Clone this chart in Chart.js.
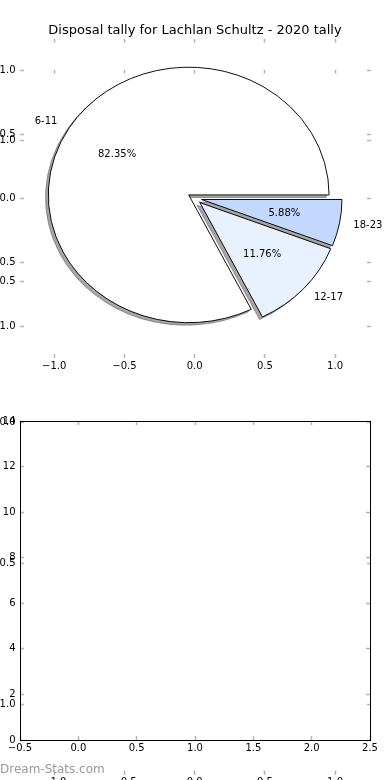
<!DOCTYPE html>
<html lang="en">
<head>
  <meta charset="UTF-8">
  <title>Disposal tally for Lachlan Schultz - 2020 tally</title>
  <script src="https://cdn.jsdelivr.net/npm/chart.js"></script>
  <style>
    body { margin: 0; background: #fff; }
    #wrap { position: relative; width: 390px; height: 780px; overflow: hidden; }
    #wrap canvas { position: absolute; left: 0; top: 0; }
    .mark { position: absolute; left: 0; top: 762px; font: 12px 'DejaVu Sans', sans-serif; line-height: 14px; color: #999; }
  </style>
</head>
<body>
  <div id="wrap">
    <canvas id="pieChart" width="390" height="780"></canvas>
    <canvas id="frameChart" width="390" height="780"></canvas>
    <canvas id="barChart" width="390" height="780"></canvas>
    <div class="mark">Dream-Stats.com</div>
  </div>

  <script>
    const chartTitle = 'Disposal tally for Lachlan Schultz - 2020 tally';
    // slices listed clockwise from 3 o'clock (matplotlib goes the other way)
    const ageGroups = ['18-23', '12-17', '6-11'];
    const disposals = [1, 2, 14];
    const explode = 0.05;
    const pieTicks = [-1, -0.5, 0, 0.5, 1];
    const barXTicks = [-0.5, 0, 0.5, 1, 1.5, 2, 2.5];
    const barYTicks = [0, 2, 4, 6, 8, 10, 12, 14];

    Chart.defaults.font.family = "'DejaVu Sans', sans-serif";
    Chart.defaults.font.size = 10;
    Chart.defaults.color = '#000';
    Chart.defaults.animation = false;
    Chart.defaults.plugins.legend.display = false;
    Chart.defaults.plugins.tooltip.enabled = false;

    const total = disposals.reduce((a, b) => a + b, 0);
    const oneDec = v => (v < 0 ? '\u2212' : '') + Math.abs(v).toFixed(1);
    const plain = v => String(v);

    function axis(position, lo, hi, ticks, fmt, size, framed) {
      const vertical = position === 'left' || position === 'right';
      const main = position === 'left' || position === 'bottom';
      return {
        type: 'linear',
        position: position,
        min: lo,
        max: hi,
        afterBuildTicks: s => { s.ticks = ticks.map(v => ({ value: v })); },
        afterFit: s => {
          if (vertical) s.width = size; else s.height = size;
          s.paddingTop = s.paddingBottom = s.paddingLeft = s.paddingRight = 0;
        },
        ticks: { display: main, callback: fmt, padding: vertical ? 8.5 : 6, autoSkip: false, maxRotation: 0 },
        grid: { drawOnChartArea: false, drawTicks: true, tickLength: -4, tickColor: '#b4b4b4', tickWidth: 1.5 },
        border: { display: framed, color: '#000', width: 1 }
      };
    }

    function axes(xr, yr, xt, yt, xf, yf, xh, rw, framed) {
      return {
        x: axis('bottom', xr[0], xr[1], xt, xf, xh, framed),
        x2: axis('top', xr[0], xr[1], xt, xf, 0, framed),
        y: axis('left', yr[0], yr[1], yt, yf, 20, framed),
        y2: axis('right', yr[0], yr[1], yt, yf, rw, framed)
      };
    }

    function geom(chart) {
      const x = chart.scales.x, y = chart.scales.y;
      return {
        cx: x.getPixelForValue(0),
        cy: y.getPixelForValue(0),
        rx: x.getPixelForValue(1) - x.getPixelForValue(0),
        ry: y.getPixelForValue(0) - y.getPixelForValue(1)
      };
    }

    // matplotlib pie: elliptical in data space, exploded wedges, shadow, labels outside
    const pieLook = {
      id: 'pieLook',
      beforeDatasetDraw() { return false; },
      afterDatasetsDraw(chart) {
        const ctx = chart.ctx;
        const g = geom(chart);
        const k = g.ry / g.rx;
        const t = explode * g.rx;
        const arcs = chart.getDatasetMeta(0).data;
        const shade = 'rgba(77,77,77,0.5)';

        const paint = (a, dx, dy, colour) => {
          const mid = (a.startAngle + a.endAngle) / 2;
          ctx.save();
          // move the arc centre onto the data origin, then squash
          ctx.translate(dx + g.cx - a.x, dy + g.cy - a.y);
          ctx.translate(a.x, a.y);
          ctx.scale(1, k);
          ctx.translate(-a.x, -a.y);
          ctx.translate(Math.cos(mid) * t, Math.sin(mid) * t);
          const orig = a.options;
          if (colour) a.options = Object.assign({}, orig, { backgroundColor: colour, borderColor: colour });
          a.draw(ctx);
          a.options = orig;
          ctx.restore();
        };
        arcs.forEach(a => paint(a, -0.02 * g.rx, 0.02 * g.ry, shade));
        arcs.forEach(a => paint(a, 0, 0, null));

        ctx.save();
        ctx.fillStyle = '#000';
        ctx.font = "10px 'DejaVu Sans'";
        ctx.textBaseline = 'middle';
        arcs.forEach((a, i) => {
          const mid = (a.startAngle + a.endAngle) / 2;
          const at = f => [g.cx + Math.cos(mid) * (t + f * g.rx), g.cy + Math.sin(mid) * (t + f * g.rx) * k];
          let p = at(1.1);
          ctx.textAlign = Math.cos(mid) < 0 ? 'right' : 'left';
          ctx.fillText(ageGroups[i], p[0], p[1]);
          p = at(0.6);
          ctx.textAlign = 'center';
          ctx.fillText((disposals[i] / total * 100).toFixed(2) + '%', p[0], p[1]);
        });
        ctx.restore();
      }
    };

    new Chart(document.getElementById('pieChart'), {
      type: 'pie',
      data: {
        labels: ageGroups,
        datasets: [{
          data: disposals,
          backgroundColor: ['#c4d8fd', '#eaf1fe', '#ffffff'],
          borderColor: '#000',
          borderWidth: 1,
          borderJoinStyle: 'miter',
          radius: c => geom(c.chart).rx,
          offset: 0,
          hoverOffset: 0
        }]
      },
      options: {
        responsive: false,
        rotation: 90,
        layout: { padding: { left: 0, right: 0, top: 0, bottom: 402 } },
        scales: axes([-1.244, 1.256], [-1.25, 1.25], pieTicks, pieTicks, oneDec, oneDec, 20, 19, false),
        plugins: {
          title: {
            display: true,
            text: chartTitle,
            color: '#000',
            font: { size: 13, weight: 'normal', lineHeight: 1.2 },
            padding: { top: 23, bottom: 0 }
          }
        }
      },
      plugins: [pieLook]
    });

    new Chart(document.getElementById('frameChart'), {
      type: 'scatter',
      data: { datasets: [] },
      options: {
        responsive: false,
        layout: { padding: { left: 0, right: 0, top: 69.5, bottom: 0 } },
        scales: axes([-1.244, 1.256], [-1.25, 1.25], pieTicks, pieTicks, oneDec, oneDec, 5.5, 19, false)
      }
    });

    new Chart(document.getElementById('barChart'), {
      type: 'scatter',
      data: { datasets: [] },
      options: {
        responsive: false,
        layout: { padding: { left: 0, right: 0, top: 421, bottom: 20 } },
        scales: axes([-0.5, 2.5], [0, 14], barXTicks, barYTicks, oneDec, plain, 20, 20, true)
      }
    });
  </script>
</body>
</html>
